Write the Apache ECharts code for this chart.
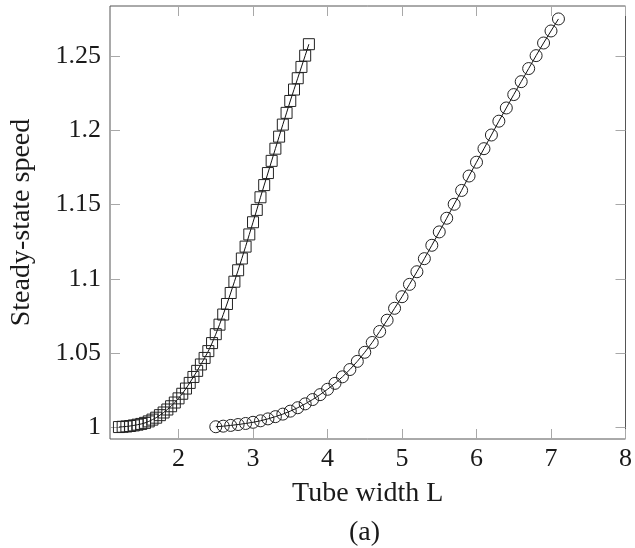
<!DOCTYPE html>
<html>
<head>
<meta charset="utf-8">
<script src="https://cdn.jsdelivr.net/npm/echarts@6/dist/echarts.min.js"></script>
<style>
html,body{margin:0;padding:0;background:#fff;}
#chart{width:635px;height:548px;}
</style>
</head>
<body>
<div id="chart"></div>
<script>
// Square series (tube width L, steady-state speed)
var squareL = [1.20,1.25,1.30,1.35,1.40,1.45,1.50,1.55,1.60,1.65,1.70,1.75,1.80,1.85,1.90,1.95,2.00,2.05,2.10,2.15,2.20,2.25,2.30,2.35,2.40,2.45,2.50,2.55,2.60,2.65,2.70,2.75,2.80,2.85,2.90,2.95,3.00,3.05,3.10,3.15,3.20,3.25,3.30,3.35,3.40,3.45,3.50,3.55,3.60,3.65,3.70,3.75];
var squareSpeed = [1.0003,1.0005,1.0007,1.0010,1.0014,1.0019,1.0024,1.0031,1.0041,1.0053,1.0066,1.0083,1.0101,1.0121,1.0143,1.0168,1.0196,1.0227,1.0262,1.0300,1.0340,1.0381,1.0424,1.0468,1.0514,1.0568,1.0628,1.0692,1.0760,1.0831,1.0905,1.0981,1.1058,1.1137,1.1217,1.1299,1.1381,1.1464,1.1549,1.1631,1.1712,1.1794,1.1876,1.1957,1.2038,1.2117,1.2197,1.2274,1.2350,1.2426,1.2502,1.2579];
// Circle series
var circleL = [2.5,2.6,2.7,2.8,2.9,3.0,3.1,3.2,3.3,3.4,3.5,3.6,3.7,3.8,3.9,4.0,4.1,4.2,4.3,4.4,4.5,4.6,4.7,4.8,4.9,5.0,5.1,5.2,5.3,5.4,5.5,5.6,5.7,5.8,5.9,6.0,6.1,6.2,6.3,6.4,6.5,6.6,6.7,6.8,6.9,7.0,7.1];
var circleSpeed = [1.0005,1.0009,1.0014,1.0020,1.0027,1.0035,1.0045,1.0058,1.0073,1.0090,1.0110,1.0133,1.0159,1.0188,1.0221,1.0257,1.0297,1.0341,1.0390,1.0445,1.0506,1.0572,1.0646,1.0722,1.0802,1.0880,1.0963,1.1048,1.1136,1.1226,1.1316,1.1408,1.1502,1.1595,1.1692,1.1785,1.1876,1.1968,1.2061,1.2150,1.2240,1.2327,1.2415,1.2502,1.2587,1.2668,1.2749];
var xTicks = [2,3,4,5,6,7,8];
var yTicks = [1,1.05,1.1,1.15,1.2,1.25];
var xLabel = 'Tube width L';
var yLabel = 'Steady-state speed';
var caption = '(a)';

var FONT = '"Liberation Serif", "DejaVu Serif", serif';
var FS = 26;
var NFS = 28;
var tickColor = '#a8a8a8';

function pairs(xs, ys){ return xs.map(function(x,i){ return [x, ys[i]]; }); }

var chart = echarts.init(document.getElementById('chart'), null, {renderer:'canvas'});
var gridL = 108, gridR = 8, gridT = 6, gridB = 109;
var xMin = 1.08, xMax = 8, yMin = 0.99226, yMax = 1.2836;

function xAx(pos, showLabel){
  return {
    type:'value', position:pos, min:xMin, max:xMax,
    axisLine:{show:false},
    splitLine:{show:false},
    axisTick:{show:true, inside:true, length:10, lineStyle:{color:tickColor, width:1}, customValues:xTicks},
    axisLabel:{show:showLabel, customValues:xTicks, margin:7, color:'#1a1a1a', fontFamily:FONT, fontSize:FS},
    name: showLabel ? xLabel : '',
    nameLocation:'middle', nameGap:41,
    nameTextStyle:{color:'#1a1a1a', fontFamily:FONT, fontSize:NFS}
  };
}
function yAx(pos, showLabel){
  return {
    type:'value', position:pos, min:yMin, max:yMax,
    axisLine:{show:false},
    splitLine:{show:false},
    axisTick:{show:true, inside:true, length:10, lineStyle:{color:tickColor, width:1}, customValues:yTicks},
    axisLabel:{show:showLabel, customValues:yTicks, margin:9, color:'#1a1a1a', fontFamily:FONT, fontSize:FS},
    name: showLabel ? yLabel : '',
    nameLocation:'middle', nameGap:74,
    nameTextStyle:{color:'#1a1a1a', fontFamily:FONT, fontSize:NFS}
  };
}

chart.setOption({
  animation:false,
  backgroundColor:'#fff',
  grid:{left:gridL, right:gridR, top:gridT, bottom:gridB, show:true, borderColor:'#555', borderWidth:1, backgroundColor:'transparent'},
  xAxis:[xAx('bottom', true), xAx('top', false)],
  yAxis:[yAx('left', true), yAx('right', false)],
  graphic:[{
    type:'text', x: gridL + (635-gridL-gridR)/2 - 3, y: 533,
    style:{text:caption, fill:'#1a1a1a', font: NFS + 'px ' + FONT, textAlign:'center', textVerticalAlign:'middle'}
  }],
  series:[
    {
      type:'line', xAxisIndex:0, yAxisIndex:0,
      data:pairs(squareL, squareSpeed),
      symbol:'rect', symbolSize:11, showAllSymbol:true,
      lineStyle:{color:'#111', width:1},
      itemStyle:{color:'rgba(0,0,0,0)', borderColor:'#222', borderWidth:1},
      emphasis:{disabled:true}
    },
    {
      type:'line', xAxisIndex:0, yAxisIndex:0,
      data:pairs(circleL, circleSpeed),
      symbol:'circle', symbolSize:12, showAllSymbol:true,
      lineStyle:{color:'#111', width:1},
      itemStyle:{color:'rgba(0,0,0,0)', borderColor:'#222', borderWidth:1},
      emphasis:{disabled:true}
    }
  ]
});
</script>
</body>
</html>
